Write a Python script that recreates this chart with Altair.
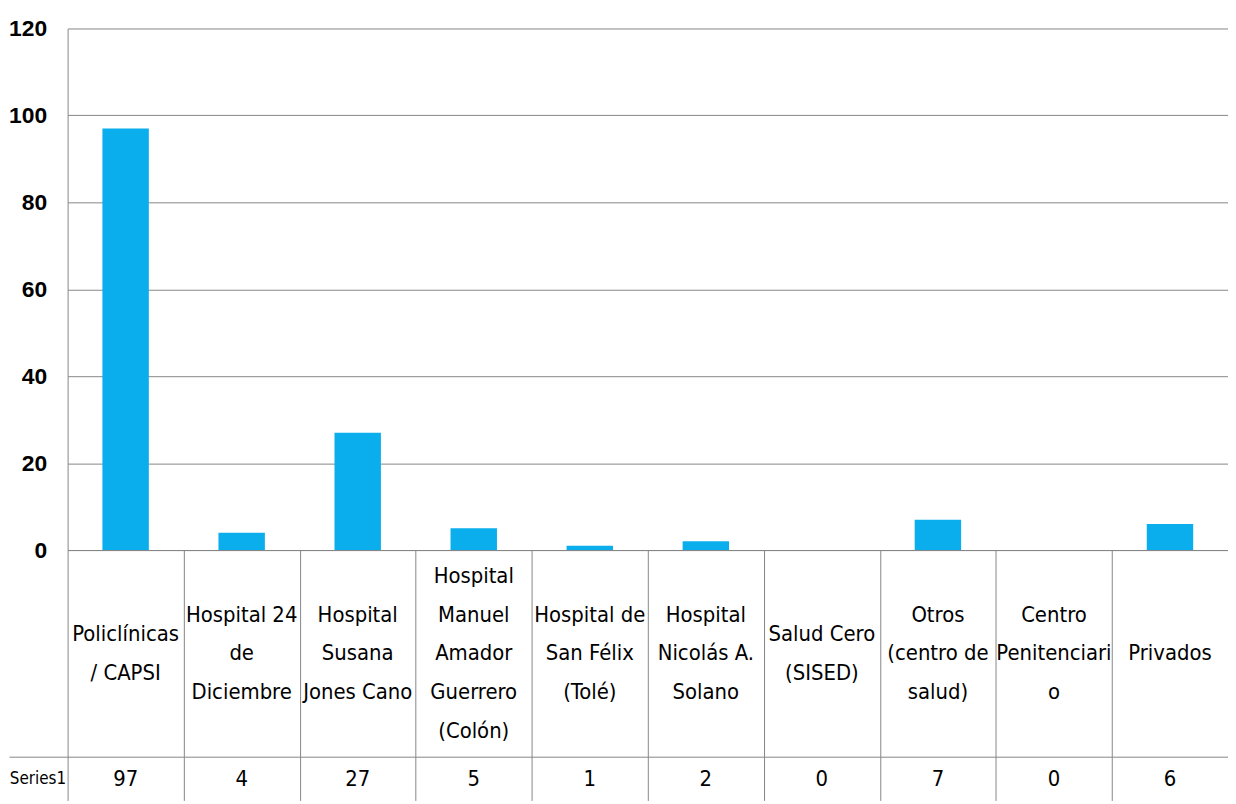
import altair as alt
import pandas as pd

categories = [
    "Policlínicas / CAPSI",
    "Hospital 24 de Diciembre",
    "Hospital Susana Jones Cano",
    "Hospital Manuel Amador Guerrero (Colón)",
    "Hospital de San Félix (Tolé)",
    "Hospital Nicolás A. Solano",
    "Salud Cero (SISED)",
    "Otros (centro de salud)",
    "Centro Penitenciario",
    "Privados",
]
category_labels = [
    "Policlínicas\n/ CAPSI",
    "Hospital 24\nde\nDiciembre",
    "Hospital\nSusana\nJones Cano",
    "Hospital\nManuel\nAmador\nGuerrero\n(Colón)",
    "Hospital de\nSan Félix\n(Tolé)",
    "Hospital\nNicolás A.\nSolano",
    "Salud Cero\n(SISED)",
    "Otros\n(centro de\nsalud)",
    "Centro\nPenitenciari\no",
    "Privados",
]
values = [97, 4, 27, 5, 1, 2, 0, 7, 0, 6]
series_name = "Series1"
y_ticks = [0, 20, 40, 60, 80, 100, 120]

df = pd.DataFrame({
    "category": categories,
    "value": values,
    "series": [series_name] * len(categories),
})

# one row per label line; "pos" is the line's offset (in lines) from the cell centre
line_rows = []
for cat, lab in zip(categories, category_labels):
    parts = lab.split("\n")
    n = len(parts)
    for i, part in enumerate(parts):
        line_rows.append({"category": cat, "line": part, "pos": (n - 1) / 2 - i})
df_lines = pd.DataFrame(line_rows)

FONT = "'DejaVu Sans Condensed', 'DejaVu Sans', sans-serif"
NUM_FONT = "'Liberation Sans', Arial, sans-serif"
BAR = "#0AAEEC"
GRID = "#868686"
W = 1168
STEP = W / len(categories)
CAT_H = 208
VAL_H = 44
LINE_H = 39
half_lines = CAT_H / 2 / LINE_H


def table_x(domain_line):
    return alt.X(
        "category:N", sort=categories,
        scale=alt.Scale(paddingInner=0, paddingOuter=0),
        axis=alt.Axis(orient="top", labels=False, ticks=False, domain=domain_line,
                      domainColor=GRID, grid=True, gridColor=GRID,
                      tickOffset=-STEP / 2, title=None),
    )


bars = alt.Chart(df).mark_bar(color=BAR).encode(
    x=alt.X("category:N", sort=categories,
            scale=alt.Scale(paddingInner=0.6, paddingOuter=0.3), axis=None),
    y=alt.Y("value:Q", scale=alt.Scale(domain=[0, 120]),
            axis=alt.Axis(values=y_ticks, grid=True, gridColor=GRID, domainColor=GRID,
                          ticks=False, labelPadding=21, labelFontSize=23,
                          labelFont=NUM_FONT, labelFontWeight="bold", title=None)),
).properties(width=W, height=525)

cats = alt.Chart(df_lines).mark_text(fontSize=22, color="black", font=FONT).encode(
    x=table_x(True),
    y=alt.Y("pos:Q", scale=alt.Scale(domain=[-half_lines, half_lines]), axis=None),
    text="line:N",
).properties(width=W, height=CAT_H)

vals = alt.Chart(df).mark_text(fontSize=22, color="black", font=FONT).encode(
    x=table_x(True),
    y=alt.Y("series:N", scale=alt.Scale(paddingInner=0, paddingOuter=0),
            axis=alt.Axis(title=None, domain=False, ticks=True, tickSize=59,
                          tickColor=GRID, tickOffset=-VAL_H / 2, labelOffset=VAL_H / 2,
                          labelPadding=-57, labelFontSize=17, labelFont=FONT,
                          grid=False)),
    text="value:Q",
).properties(width=W, height=VAL_H)

chart = alt.vconcat(bars, cats, vals, spacing=0, bounds="flush").resolve_scale(
    x="independent"
).properties(
    padding={"left": 0, "top": 7, "right": 0, "bottom": 0}
).configure_view(strokeWidth=0).configure_axis(labelColor="black")

chart.save("out.html", embed_options={"renderer": "svg", "actions": False})
